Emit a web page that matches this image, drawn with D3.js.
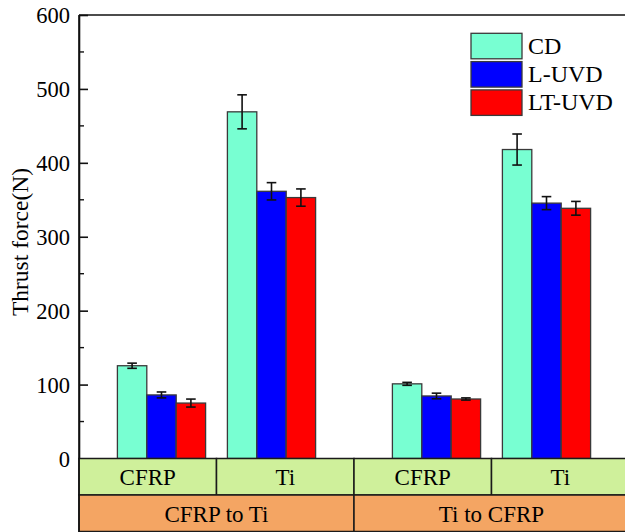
<!DOCTYPE html>
<html>
<head>
  <meta charset="utf-8">
  <title>Thrust force</title>
  <script src="https://d3js.org/d3.v7.min.js"></script>
  <style>
    body { margin: 0; background: white; }
    svg text { font-family: "Liberation Serif", "Times New Roman", serif; fill: black; }
  </style>
</head>
<body>
<div id="chart"></div>
<script>
// materials drilled (inner row) and stacking order (outer row)
var materials = ['CFRP', 'Ti', 'CFRP', 'Ti'];
var groupPos = [1, 2, 3.5, 4.5];
var sequences = ['CFRP to Ti', 'Ti to CFRP'];
var seriesNames = ['CD', 'L-UVD', 'LT-UVD'];
var seriesColors = ['#78FFD2', '#0000FF', '#FF0000'];

var cdValues = [125.5, 469, 101, 418];
var cdErrors = [3.5, 23, 2, 21];
var luvdValues = [86, 361.5, 84.6, 345.5];
var luvdErrors = [4, 11.7, 3.8, 8.8];
var ltuvdValues = [75, 353, 80.5, 338.5];
var ltuvdErrors = [5.4, 11.7, 1.5, 9.3];

var yTicks = [0, 100, 200, 300, 400, 500, 600];

var W = 625, H = 532;
var margin = { left: 79, top: 15 };
var plotRight = 629, zeroY = 458.5;
var row1Bottom = 495, row2Bottom = 531.5;
var FONT = '"Liberation Serif", "Times New Roman", serif';

var svg = d3.select('#chart').append('svg')
  .attr('width', W).attr('height', H)
  .style('font-family', FONT);

var x = d3.scaleLinear().domain([0.25, 5.25]).range([margin.left, plotRight]);
var y = d3.scaleLinear().domain([0, 600]).range([zeroY, margin.top]);
var barW = 29.4;

var series = [
  { name: seriesNames[0], color: seriesColors[0], values: cdValues, errors: cdErrors },
  { name: seriesNames[1], color: seriesColors[1], values: luvdValues, errors: luvdErrors },
  { name: seriesNames[2], color: seriesColors[2], values: ltuvdValues, errors: ltuvdErrors }
];

// bars
series.forEach(function (s, si) {
  var g = svg.append('g');
  g.selectAll('rect')
    .data(s.values)
    .enter().append('rect')
    .attr('x', function (d, i) { return x(groupPos[i]) + (si - 1.5) * barW; })
    .attr('y', function (d) { return y(d); })
    .attr('width', barW)
    .attr('height', function (d) { return zeroY - y(d); })
    .attr('fill', s.color)
    .attr('stroke', '#3a3a3a')
    .attr('stroke-width', 1.3);

  // error bars
  s.values.forEach(function (v, i) {
    var cx = x(groupPos[i]) + (si - 1) * barW;
    var e = s.errors[i];
    var eg = svg.append('g').attr('stroke', '#111').attr('stroke-width', 1.6);
    eg.append('line').attr('x1', cx).attr('x2', cx).attr('y1', y(v + e)).attr('y2', y(v - e));
    eg.append('line').attr('x1', cx - 4.8).attr('x2', cx + 4.8).attr('y1', y(v + e)).attr('y2', y(v + e));
    eg.append('line').attr('x1', cx - 4.8).attr('x2', cx + 4.8).attr('y1', y(v - e)).attr('y2', y(v - e));
  });
});

// y axis, ticks inward
var yAxis = d3.axisLeft(y).tickValues(yTicks).tickSizeInner(-9).tickSizeOuter(0).tickPadding(9);
var ay = svg.append('g').attr('transform', 'translate(' + margin.left + ',0)').call(yAxis)
  .attr('font-family', null).attr('font-size', null);
ay.select('.domain').attr('stroke', '#111').attr('stroke-width', 1.6);
ay.selectAll('.tick line').attr('stroke', '#111').attr('stroke-width', 1.6);
ay.selectAll('.tick text').style('font-size', '22.5px').style('font-family', FONT).attr('dy', '0.34em');

var minor = d3.range(50, 600, 100);
svg.append('g').selectAll('line').data(minor).enter().append('line')
  .attr('x1', margin.left).attr('x2', margin.left + 5)
  .attr('y1', function (d) { return y(d); }).attr('y2', function (d) { return y(d); })
  .attr('stroke', '#111').attr('stroke-width', 1.4);

// top frame
svg.append('line')
  .attr('x1', margin.left).attr('x2', plotRight)
  .attr('y1', y(600)).attr('y2', y(600))
  .attr('stroke', '#111').attr('stroke-width', 1.6);

svg.append('text')
  .attr('transform', 'translate(28,' + 242 + ') rotate(-90)')
  .attr('text-anchor', 'middle')
  .style('font-size', '23.5px')
  .text('Thrust force(N)');

// category table under the axis
var row1 = svg.append('g');
materials.forEach(function (m, i) {
  var x0 = x(0.25 + i * 1.25), x1 = x(0.25 + (i + 1) * 1.25);
  row1.append('rect')
    .attr('x', x0).attr('y', zeroY).attr('width', x1 - x0).attr('height', row1Bottom - zeroY)
    .attr('fill', '#CFF09B').attr('stroke', '#1a1a1a').attr('stroke-width', 1.5);
  row1.append('text')
    .attr('x', (x0 + x1) / 2).attr('y', 484.5)
    .attr('text-anchor', 'middle').style('font-size', '23px')
    .text(m);
});
var row2 = svg.append('g');
sequences.forEach(function (s, i) {
  var x0 = x(0.25 + i * 2.5), x1 = x(0.25 + (i + 1) * 2.5);
  row2.append('rect')
    .attr('x', x0).attr('y', row1Bottom).attr('width', x1 - x0).attr('height', row2Bottom - row1Bottom)
    .attr('fill', '#F4A563').attr('stroke', '#1a1a1a').attr('stroke-width', 1.5);
  row2.append('text')
    .attr('x', (x0 + x1) / 2).attr('y', 521.5)
    .attr('text-anchor', 'middle').style('font-size', '23px')
    .text(s);
});

// axis line on top of table
svg.append('line')
  .attr('x1', margin.left).attr('x2', margin.left)
  .attr('y1', y(600)).attr('y2', H)
  .attr('stroke', '#111').attr('stroke-width', 1.6);

// legend
var legend = svg.append('g').attr('transform', 'translate(471,33.3)');
series.forEach(function (s, i) {
  legend.append('rect')
    .attr('x', 0).attr('y', i * 28.3)
    .attr('width', 51).attr('height', 25.5)
    .attr('fill', s.color).attr('stroke', '#3a3a3a').attr('stroke-width', 1.3);
  legend.append('text')
    .attr('x', 57).attr('y', i * 28.3 + 20.2)
    .style('font-size', '24px')
    .text(s.name);
});
</script>
</body>
</html>
